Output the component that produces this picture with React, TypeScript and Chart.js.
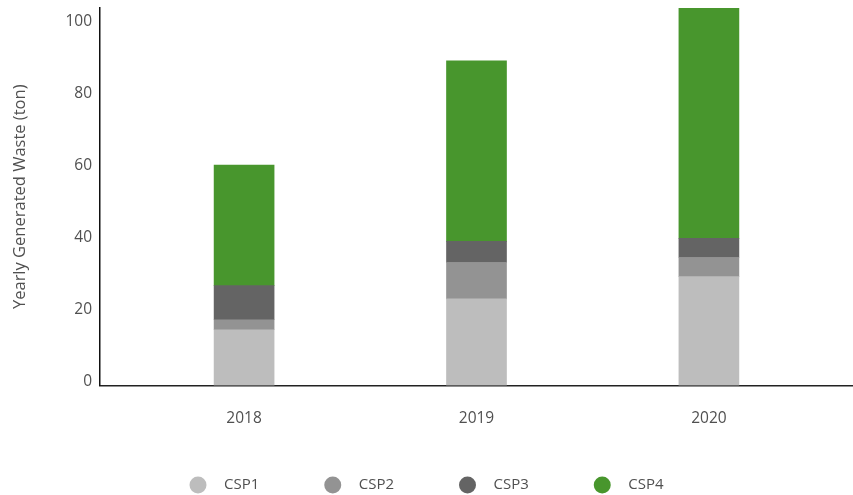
import React, { useEffect, useRef } from "react";
import { Chart, registerables } from "chart.js";

Chart.register(...registerables);

const categories = ["2018", "2019", "2020"];
const seriesNames = ["CSP1", "CSP2", "CSP3", "CSP4"];
const csp1 = [15.5, 24.1, 30.3];
const csp2 = [2.8, 10.1, 5.3];
const csp3 = [9.5, 5.9, 5.3];
const csp4 = [33.5, 50.2, 64.1];
const yTicks = [0, 20, 40, 60, 80, 100];
const colors = ["#bdbdbd", "#939393", "#646464", "#48962d"];

const FONT = "'Open Sans', 'DejaVu Sans', sans-serif";
const TEXT = "#505050";

export default function App() {
  const ref = useRef<HTMLCanvasElement | null>(null);

  useEffect(() => {
    const canvas = ref.current;
    if (!canvas) return;
    const values = [csp1, csp2, csp3, csp4];
    const datasets = seriesNames.map((name, s) => ({
      label: name,
      data: categories.map((c, i) => ({ x: Number(c), y: values[s][i] })),
      backgroundColor: colors[s],
      borderWidth: 0,
      barThickness: 60,
      pointStyle: "circle" as const,
    }));

    const chart = new Chart(canvas, {
      type: "bar",
      data: { datasets },
      options: {
        animation: false,
        responsive: true,
        maintainAspectRatio: false,
        layout: { padding: { left: 0, right: 0, top: 8, bottom: -7.5 } },
        plugins: {
          tooltip: { enabled: false },
          legend: {
            position: "bottom",
            labels: {
              usePointStyle: true,
              pointStyleWidth: 17,
              boxHeight: 12,
              padding: 40,
              color: TEXT,
              font: { family: FONT, size: 15 },
              generateLabels: (ch: any) => {
                const items = Chart.defaults.plugins.legend.labels.generateLabels(ch);
                return items.map((it: any, i: number) => ({
                  ...it,
                  lineWidth: 0,
                  text:
                    "\u2002\u2009" +
                    it.text +
                    (i < items.length - 1 ? "\u2003\u2002\u2009" : ""),
                }));
              },
            },
          },
        },
        scales: {
          x: {
            type: "linear",
            stacked: true,
            offset: false,
            min: 2017.38,
            max: 2020.62,
            grid: { display: false, drawTicks: false },
            border: { display: true, color: "#222222", width: 1.5 },
            afterBuildTicks: (scale: any) => {
              scale.ticks = categories.map((c) => ({ value: Number(c) }));
            },
            afterFit: (scale: any) => {
              scale.height = 52;
            },
            ticks: {
              padding: 24,
              color: TEXT,
              font: { family: FONT, size: 15.5 },
              callback: (v: any) => String(v),
            },
          },
          y: {
            stacked: true,
            min: 0,
            max: 105,
            grid: { display: false, drawTicks: false },
            border: { display: true, color: "#111111", width: 1.5 },
            afterBuildTicks: (scale: any) => {
              scale.ticks = yTicks.map((v) => ({ value: v }));
            },
            afterFit: (scale: any) => {
              scale.width = 100;
              scale.paddingTop = 0;
            },
            ticks: {
              padding: 8,
              labelOffset: -4,
              color: TEXT,
              font: { family: FONT, size: 15.5 },
            },
            title: {
              display: true,
              text: "Yearly Generated Waste (ton)",
              color: TEXT,
              padding: { top: 10, bottom: 0 },
              font: { family: FONT, size: 16.5 },
            },
          },
        },
      },
    });
    return () => chart.destroy();
  }, []);

  return (
    <div
      style={{
        position: "fixed",
        left: 0,
        top: 0,
        width: "853px",
        height: "495px",
        background: "#ffffff",
      }}
    >
      <canvas ref={ref} />
    </div>
  );
}
